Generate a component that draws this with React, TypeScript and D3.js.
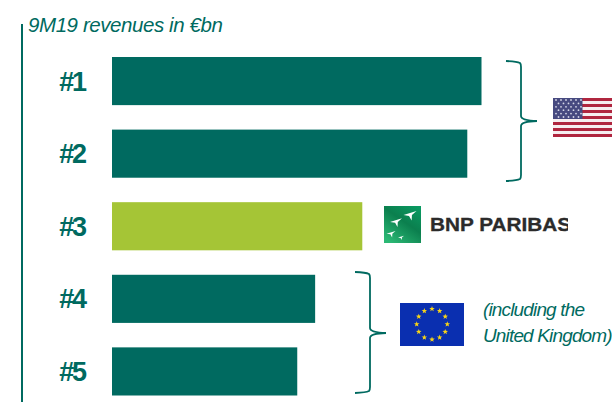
import React from "react";
import * as d3 from "d3";

const ranks = ["#1", "#2", "#3", "#4", "#5"];
const revenues = [22.1, 21.25, 14.97, 12.15, 11.08];
const barColors = ["#006a60", "#006a60", "#a5c536", "#006a60", "#006a60"];
const title = "9M19 revenues in €bn";
const bankName = "BNP PARIBAS";
const noteLines = ["(including the", "United Kingdom)"];

const DARK = "#006a60";
const FONT = "'Liberation Sans', Arial, sans-serif";

const x = d3.scaleLinear().domain([0, 22.1]).range([112, 481.5]);
const y = d3.scaleBand<string>().domain(ranks).range([57, 395.5]).paddingInner(0.337).paddingOuter(0);

function star(cx: number, cy: number, r: number) {
  const pts = d3.range(10).map((i) => {
    const a = -Math.PI / 2 + (i * Math.PI) / 5;
    const rr = i % 2 === 0 ? r : r * 0.42;
    return `${cx + rr * Math.cos(a)},${cy + rr * Math.sin(a)}`;
  });
  return pts.join(" ");
}

function brace(xl: number, xm: number, xt: number, y0: number, ym: number, y1: number) {
  return `M${xl},${y0} Q${xm - 4},${y0 + 0.5} ${xm - 1},${y0 + 2} Q${xm},${y0 + 3} ${xm},${y0 + 6}
    L${xm},${ym - 5} Q${xm},${ym - 0.5} ${xt},${ym} Q${xm},${ym + 0.5} ${xm},${ym + 5}
    L${xm},${y1 - 6} Q${xm},${y1 - 3} ${xm - 1},${y1 - 2} Q${xm - 4},${y1 - 0.5} ${xl},${y1}`;
}

function USFlag() {
  const X = 553, Y = 98, W = 59, H = 39;
  const sy = d3.scaleBand<number>().domain(d3.range(13)).range([Y, Y + H]);
  return (
    <g>
      {d3.range(13).map((i) => (
        <rect key={i} x={X} y={sy(i)} width={W} height={sy.bandwidth()} fill={i % 2 === 0 ? "#b0263f" : "#f6eef0"} />
      ))}
      <rect x={X} y={Y} width={29.5} height={21} fill="#474a80" />
      {d3.range(6).flatMap((r) =>
        d3.range(r % 2 === 0 ? 6 : 5).map((c) => (
          <circle key={`${r}-${c}`} cx={X + (r % 2 === 0 ? 3 : 5.5) + c * 5} cy={Y + 2 + r * 3.4} r={0.9} fill="#d5d6e6" />
        ))
      )}
    </g>
  );
}

function EUFlag() {
  const X = 400, Y = 303, W = 64, H = 43;
  const cx = X + W / 2, cy = Y + H / 2 - 0.3;
  return (
    <g>
      <rect x={X} y={Y} width={W} height={H} fill="#0a2fb0" />
      {d3.range(12).map((i) => {
        const a = (i * Math.PI) / 6;
        return <polygon key={i} points={star(cx + 15.3 * Math.sin(a), cy - 15.3 * Math.cos(a), 2.9)} fill="#f7d417" />;
      })}
    </g>
  );
}

function BankLogo() {
  const X = 384, Y = 206, S = 37;
  const bird = (cx: number, cy: number, s: number) =>
    `M${cx - s},${cy + 0.15 * s} L${cx + s},${cy - 0.45 * s} L${cx + 0.3 * s},${cy + 0.15 * s} L${cx + 0.25 * s},${cy + s} L${cx - 0.15 * s},${cy + 0.3 * s} Z`;
  return (
    <g>
      <defs>
        <linearGradient id="bnpg" x1="0.9" y1="0" x2="0.2" y2="1">
          <stop offset="0" stopColor="#0a9a62" />
          <stop offset="0.45" stopColor="#0b7f4e" />
          <stop offset="1" stopColor="#2bb874" />
        </linearGradient>
        <clipPath id="bnpc"><rect x={X} y={195} width={184} height={60} /></clipPath>
      </defs>
      <rect x={X} y={Y} width={S} height={S} fill="url(#bnpg)" />
      <path d={bird(X + 26, Y + 8, 6.5)} fill="#fff" />
      <path d={bird(X + 12, Y + 15, 6)} fill="#fff" />
      <path d={bird(X + 7, Y + 27, 4.5)} fill="#fff" />
      <path d={bird(X + 17, Y + 31, 3)} fill="#fff" />
      <g clipPath="url(#bnpc)">
        <text x={430} y={231} fontFamily={FONT} fontWeight="bold" fontSize={18} fill="#2b2b2b" stroke="#2b2b2b" strokeWidth={0.3} textLength={141} lengthAdjust="spacingAndGlyphs">
          {bankName}
        </text>
      </g>
    </g>
  );
}

export default function App() {
  return (
    <svg width={612} height={402} viewBox="0 0 612 402" style={{ position: "absolute", left: 0, top: 0, display: "block", background: "#fff" }}>
      <line x1={22} x2={22} y1={24} y2={402} stroke={DARK} strokeWidth={2} />
      <text x={28} y={32} fontFamily={FONT} fontStyle="italic" fontSize={20.5} fill={DARK} letterSpacing={-0.42}>{title}</text>
      {ranks.map((r, i) => (
        <g key={r}>
          <rect x={x(0)} y={y(r)} width={x(revenues[i]) - x(0)} height={y.bandwidth()} fill={barColors[i]} />
          <text x={72} y={y(r)! + y.bandwidth() / 2 + 9.5} textAnchor="middle" fontFamily={FONT} fontWeight="bold" fontSize={27} fill={DARK} letterSpacing={-2.2}>{r}</text>
        </g>
      ))}
      <path d={brace(506, 521, 537, 61, 121, 181)} fill="none" stroke={DARK} strokeWidth={1.8} />
      <path d={brace(355, 370, 386, 272, 333, 393)} fill="none" stroke={DARK} strokeWidth={1.8} />
      <USFlag />
      <BankLogo />
      <EUFlag />
      {noteLines.map((t, i) => (
        <text key={t} x={483} y={316 + i * 26} fontFamily={FONT} fontStyle="italic" fontSize={19} fill={DARK} letterSpacing={-0.85}>{t}</text>
      ))}
    </svg>
  );
}
